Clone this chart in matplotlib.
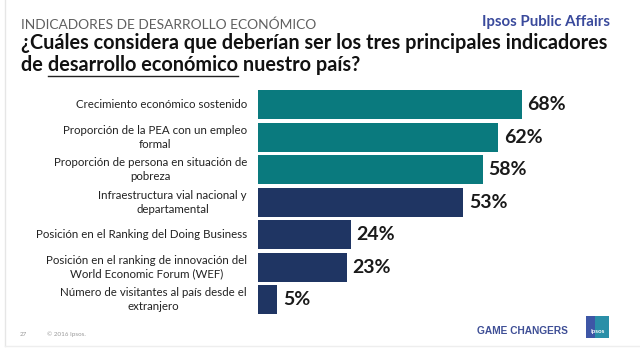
import matplotlib
matplotlib.use("Agg")
import matplotlib.pyplot as plt
from matplotlib.patches import Rectangle
import matplotlib.lines as mlines

categories = [
    "Crecimiento económico sostenido",
    "Proporción de la PEA con un empleo\nformal",
    "Proporción de persona en situación de\npobreza",
    "Infraestructura vial nacional y\ndepartamental",
    "Posición en el Ranking del Doing Business",
    "Posición en el ranking de innovación del\nWorld Economic Forum (WEF)",
    "Número de visitantes al país desde el\nextranjero",
]
values = [68, 62, 58, 53, 24, 23, 5]
groups = ["top", "top", "top", "other", "other", "other", "other"]
value_labels = ["68%", "62%", "58%", "53%", "24%", "23%", "5%"]

TEAL = "#0a7a7e"
NAVY = "#1f3563"
colors = {"top": TEAL, "other": NAVY}

FONT = "Lato"
W, H = 640, 362
fig = plt.figure(figsize=(W / 100, H / 100), dpi=100)
fig.patch.set_facecolor("white")


def fx(px):
    return px / W


def fy(py):
    return 1 - py / H


def fit_text(x, y, s, target_w, size, **kw):
    t = fig.text(x, y, s, fontsize=size, **kw)
    fig.canvas.draw()
    w = t.get_window_extent(fig.canvas.get_renderer()).width
    t.set_fontsize(size * target_w / w)
    return t


# Bars axes
ax_left, ax_right = 258, 568
ax_top, ax_bottom = 88.5, 316
ax = fig.add_axes([fx(ax_left), fy(ax_bottom), fx(ax_right - ax_left), (ax_bottom - ax_top) / H])
ypos = list(range(len(values)))
ax.barh(ypos, values, height=0.89, color=[colors[g] for g in groups], edgecolor="none")
ax.set_xlim(0, 80)
ax.set_ylim(len(values) - 0.5, -0.5)
ax.axis("off")
for y, v, lab in zip(ypos, values, value_labels):
    ax.annotate(lab, (v, y), xytext=(4, 0), textcoords="offset points",
                va="center", ha="left", fontsize=14, fontweight="bold",
                color="#1a1a1a", family=FONT)
for y, c in zip(ypos, categories):
    ax.annotate(c, (0, y), xytext=(-8, 0), textcoords="offset points",
                va="center", ha="right", fontsize=8.3, color="#222222",
                family=FONT, multialignment="center", linespacing=1.3)

# Header
fit_text(fx(21), fy(25), "INDICADORES DE DESARROLLO ECONÓMICO", 294, 10,
         color="#606060", family=FONT, va="center", ha="left")
fit_text(fx(610), fy(22), "Ipsos Public Affairs", 129, 10.5, fontweight="bold",
         color="#3a4a9c", family=FONT, va="center", ha="right")
t0 = fit_text(fx(21), fy(43), "¿Cuáles considera que deberían ser los tres principales indicadores",
              587, 14, fontweight="bold", color="#111111", family=FONT, va="center", ha="left")
tsize = t0.get_fontsize()

r = fig.canvas.get_renderer()
t1 = fig.text(fx(21), fy(65), "de ", fontsize=tsize, fontweight="bold", color="#111111",
              family=FONT, va="center", ha="left")
fig.canvas.draw()
bb1 = t1.get_window_extent(r)
t2 = fig.text(bb1.x1 / W, fy(65), "desarrollo económico", fontsize=tsize, fontweight="bold",
              color="#111111", family=FONT, va="center", ha="left")
fig.canvas.draw()
bb2 = t2.get_window_extent(r)
fig.text(bb2.x1 / W, fy(65), " nuestro país?", fontsize=tsize, fontweight="bold",
         color="#111111", family=FONT, va="center", ha="left")
fig.add_artist(mlines.Line2D([bb2.x0 / W, bb2.x1 / W], [fy(76), fy(76)],
                             color="#222222", lw=1.0, transform=fig.transFigure))

# Footer
fig.text(fx(20), fy(334), "27", fontsize=4.5, color="#999999", family=FONT, va="center")
fig.text(fx(47), fy(334), "© 2016 Ipsos.", fontsize=4.5, color="#999999", family=FONT, va="center")
fit_text(fx(477), fy(331), "GAME CHANGERS", 91, 8.3, fontweight="bold",
         color="#3f4f96", family="Liberation Sans", va="center", ha="left")
fig.add_artist(Rectangle((fx(586), fy(338)), fx(23), (338 - 316) / H,
                         transform=fig.transFigure, facecolor="#2a8fa8", edgecolor="none"))
fig.add_artist(Rectangle((fx(586), fy(338)), fx(9), (338 - 316) / H,
                         transform=fig.transFigure, facecolor="#3e56a6", edgecolor="none"))
fig.text(fx(597.5), fy(332), "Ipsos", fontsize=4.5, fontweight="bold", color="white",
         family=FONT, va="center", ha="center")

# Slide edges
fig.add_artist(mlines.Line2D([fx(5), fx(5)], [fy(0), fy(346)], color="#e6e6e6", lw=1,
                             transform=fig.transFigure))
fig.add_artist(mlines.Line2D([fx(5), fx(640)], [fy(346), fy(346)], color="#eeeeee", lw=1,
                             transform=fig.transFigure))

fig.savefig("out.png", dpi=100, facecolor="white")
